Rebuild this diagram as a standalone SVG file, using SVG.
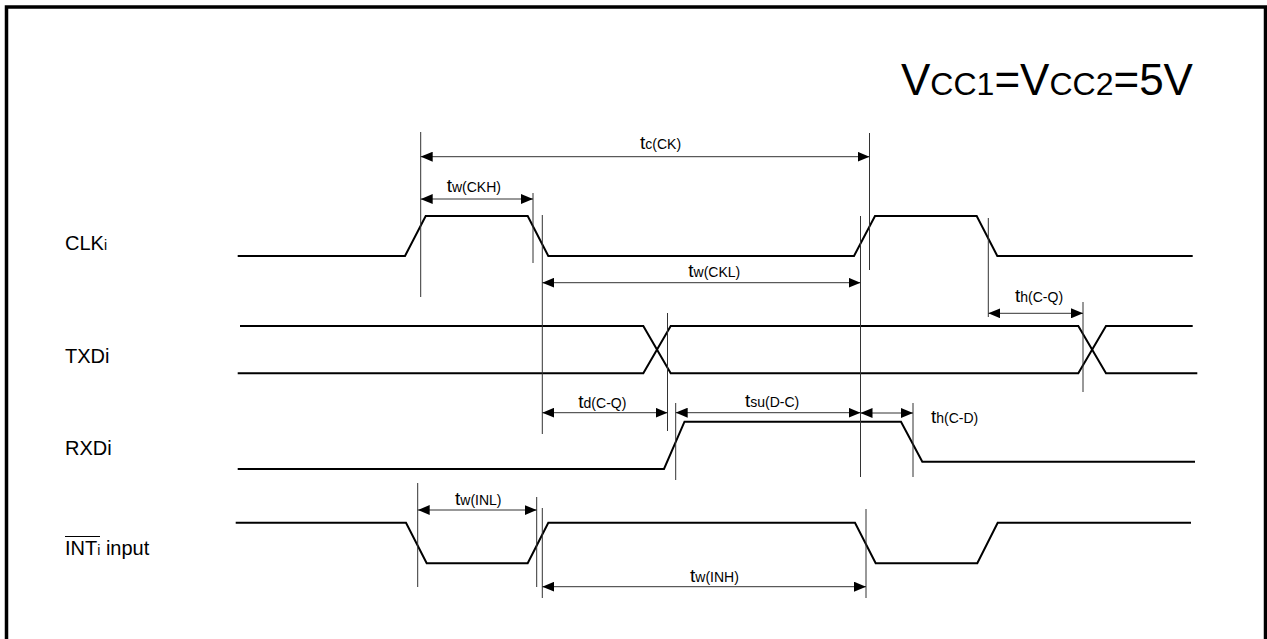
<svg xmlns="http://www.w3.org/2000/svg" width="1267" height="639" viewBox="0 0 1267 639">
<style>
.sig{fill:none;stroke:#000;stroke-width:2;stroke-linejoin:miter}
.ext{fill:none;stroke:#333;stroke-width:1}
.dim{fill:none;stroke:#333;stroke-width:1;marker-start:url(#ah);marker-end:url(#ah)}
text{font-family:"Liberation Sans",Arial,sans-serif;fill:#000}
.lbl{font-size:20px}
.t{font-size:19px}
.s{font-size:14px}
</style>
<defs>
<marker id="ah" markerUnits="userSpaceOnUse" markerWidth="12" markerHeight="10" refX="12" refY="5" orient="auto-start-reverse" viewBox="0 0 12 10">
<path d="M0,0 L12,5 L0,10 Z" fill="#000"/>
</marker>
</defs>
<rect x="6.5" y="7" width="1259" height="700" fill="#fff" stroke="#000" stroke-width="3.5"/>

<g id="title">
<text x="901" y="95"><tspan font-size="44">V</tspan><tspan font-size="32">CC1</tspan><tspan font-size="44">=V</tspan><tspan font-size="32">CC2</tspan><tspan font-size="44">=5V</tspan></text>
</g>

<g id="label-clk"><text class="lbl" x="65" y="250">CLK<tspan font-size="14">i</tspan></text></g>
<g id="label-txd"><text class="lbl" x="65" y="363">TXDi</text></g>
<g id="label-rxd"><text class="lbl" x="65" y="455">RXDi</text></g>
<g id="label-int"><text class="lbl" x="65" y="555">INT<tspan font-size="14">i</tspan> input</text>
<line x1="65" y1="536.5" x2="100" y2="536.5" stroke="#000" stroke-width="1.2"/></g>

<g id="signal-clk">
<polyline class="sig" points="237.7,256 405,256 425.7,216 527.7,216 548.3,256 854,256 875,216 976.7,216 997.3,256 1192.7,256"/>
</g>
<g id="signal-txd">
<polyline class="sig" points="240,326 643.3,326 670.7,373.3 1078.3,373.3 1106,326 1192.7,326"/>
<polyline class="sig" points="237.7,373.3 643.3,373.3 670.7,326 1078.3,326 1106,373.3 1197.3,373.3"/>
</g>
<g id="signal-rxd">
<polyline class="sig" points="237.7,469 664,469 684.5,421.7 901,421.7 922.3,461.7 1195,461.7"/>
</g>
<g id="signal-int">
<polyline class="sig" points="235.7,522.7 406,522.7 426.7,563.3 527.7,563.3 548.3,522.7 855,522.7 875.7,563.3 977.3,563.3 997.7,522.7 1191,522.7"/>
</g>

<g id="connectors">
<line class="ext" x1="420.7" y1="132" x2="420.7" y2="297"/>
<line class="ext" x1="533" y1="193" x2="533" y2="263"/>
<line class="ext" x1="542.3" y1="215" x2="542.3" y2="434"/>
<line class="ext" x1="869.5" y1="133" x2="869.5" y2="270"/>
<line class="ext" x1="860.5" y1="216" x2="860.5" y2="477"/>
<line class="ext" x1="988.3" y1="218" x2="988.3" y2="317"/>
<line class="ext" x1="1083" y1="302" x2="1083" y2="392"/>
<line class="ext" x1="667.5" y1="313" x2="667.5" y2="431"/>
<line class="ext" x1="675.7" y1="403" x2="675.7" y2="480"/>
<line class="ext" x1="913" y1="403" x2="913" y2="477"/>
<line class="ext" x1="417.7" y1="483" x2="417.7" y2="587"/>
<line class="ext" x1="536.7" y1="497" x2="536.7" y2="587"/>
<line class="ext" x1="542.3" y1="508" x2="542.3" y2="598"/>
<line class="ext" x1="866" y1="509" x2="866" y2="598"/>

<line class="dim" x1="420.7" y1="156.7" x2="869.5" y2="156.7"/>
<line class="dim" x1="420.7" y1="199" x2="533" y2="199"/>
<line class="dim" x1="542.3" y1="282.7" x2="860.5" y2="282.7"/>
<line class="dim" x1="988.3" y1="313.3" x2="1083" y2="313.3"/>
<line class="dim" x1="542.3" y1="412.7" x2="667.5" y2="412.7"/>
<line class="dim" x1="675.7" y1="412.7" x2="860.5" y2="412.7"/>
<line class="dim" x1="860.5" y1="413" x2="913" y2="413"/>
<line class="dim" x1="417.7" y1="510" x2="536.7" y2="510"/>
<line class="dim" x1="542.3" y1="586.7" x2="866" y2="586.7"/>
</g>

<g id="dim-labels">
<text x="640" y="149"><tspan class="t">t</tspan><tspan class="s">c(CK)</tspan></text>
<text x="446.7" y="191.7"><tspan class="t">t</tspan><tspan class="s">w(CKH)</tspan></text>
<text x="688.3" y="277.3"><tspan class="t">t</tspan><tspan class="s">w(CKL)</tspan></text>
<text x="1015" y="301.7"><tspan class="t">t</tspan><tspan class="s">h(C-Q)</tspan></text>
<text x="578.3" y="408.3"><tspan class="t">t</tspan><tspan class="s">d(C-Q)</tspan></text>
<text x="745" y="406.7"><tspan class="t">t</tspan><tspan class="s">su(D-C)</tspan></text>
<text x="931" y="423.3"><tspan class="t">t</tspan><tspan class="s">h(C-D)</tspan></text>
<text x="455" y="505"><tspan class="t">t</tspan><tspan class="s">w(INL)</tspan></text>
<text x="690" y="581.7"><tspan class="t">t</tspan><tspan class="s">w(INH)</tspan></text>
</g>
</svg>
